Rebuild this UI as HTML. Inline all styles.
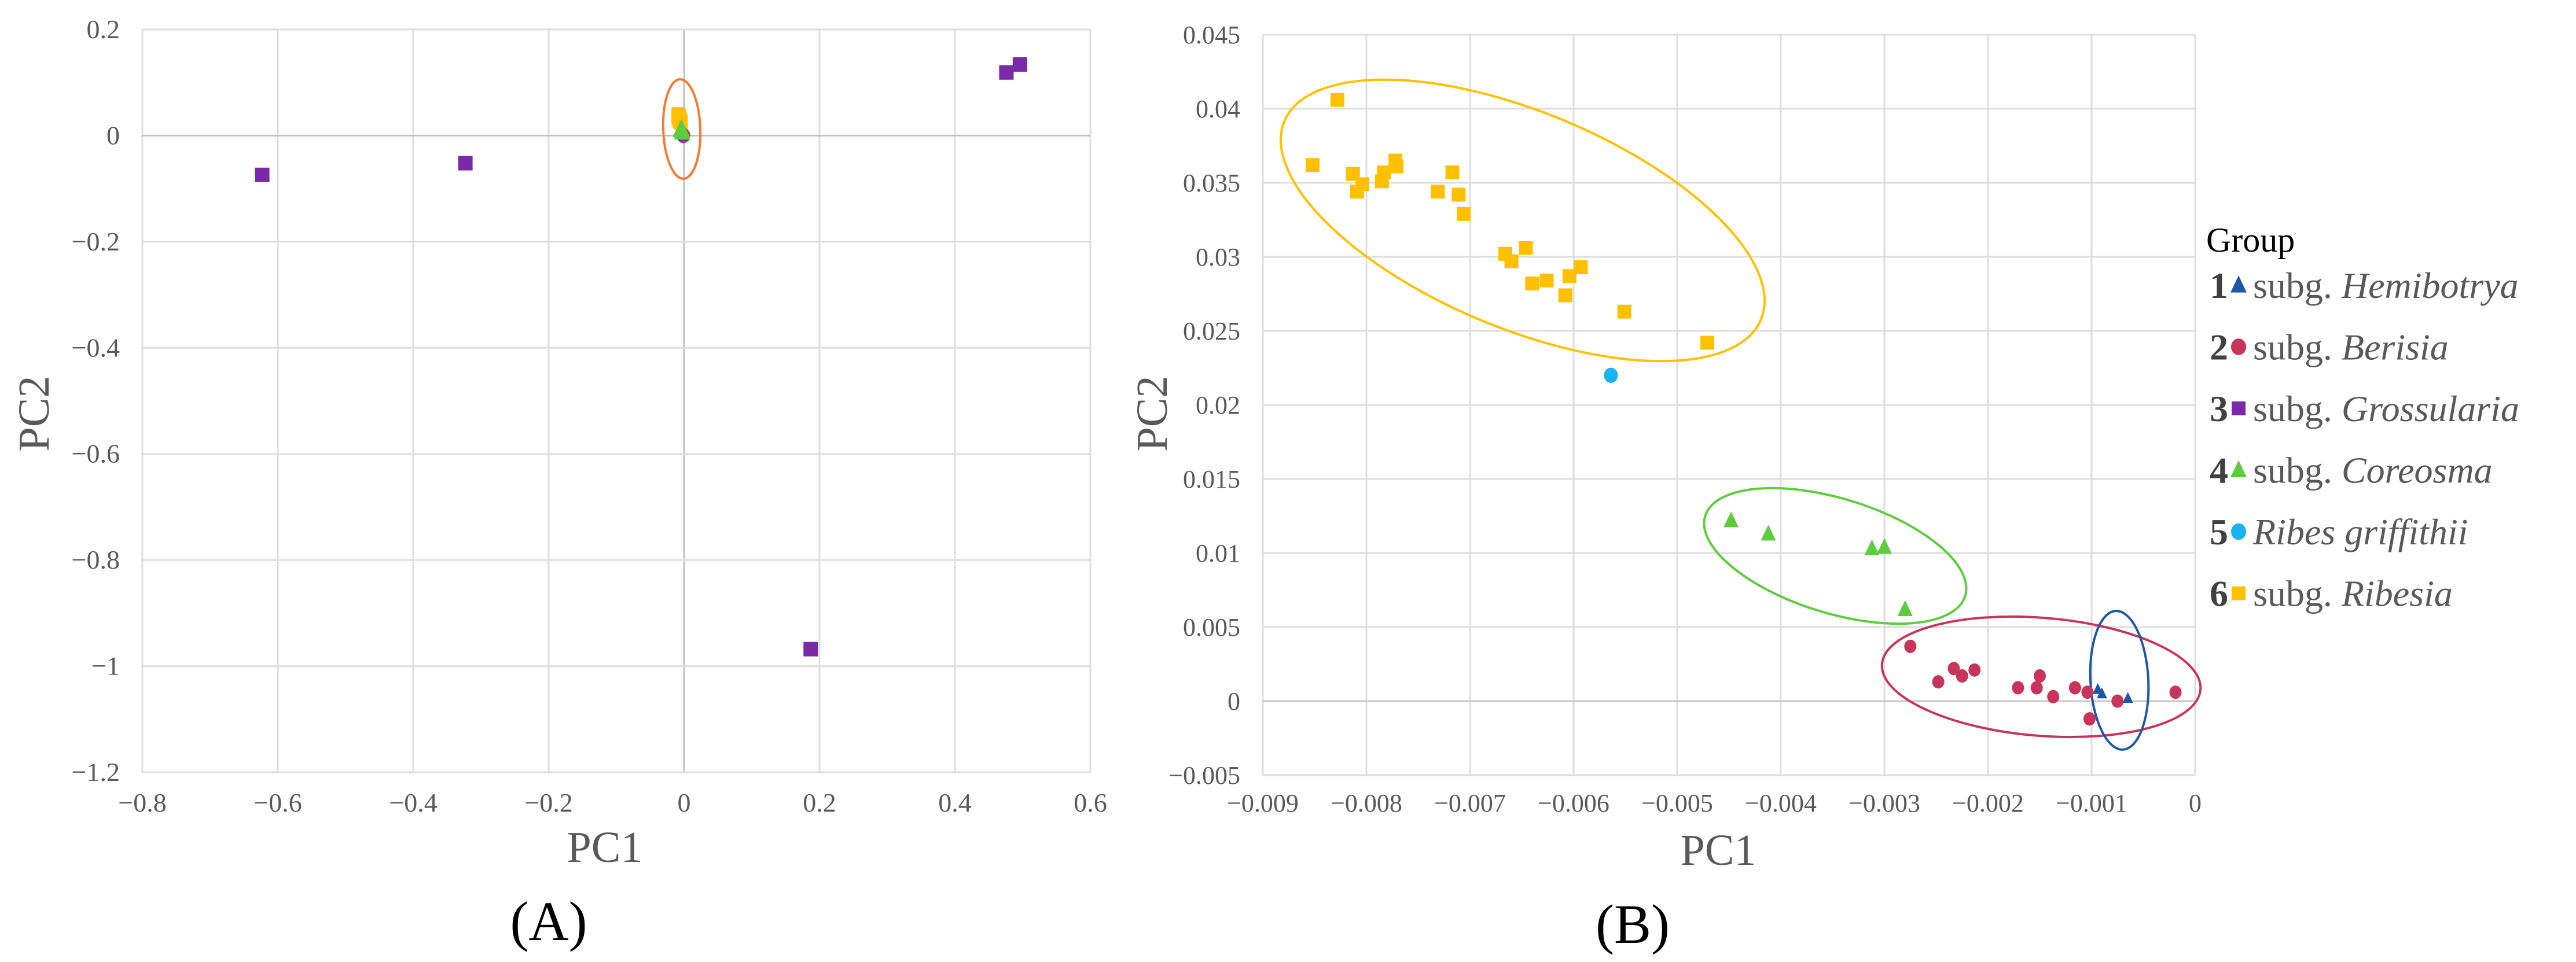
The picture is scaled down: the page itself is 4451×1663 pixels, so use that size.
<!DOCTYPE html>
<html><head><meta charset="utf-8"><style>
html,body{margin:0;padding:0;background:#fff;}
svg{display:block;font-family:"Liberation Serif",serif;}
</style></head><body>
<svg id="fig" width="4451" height="1663" viewBox="0 0 4451 1663" xmlns="http://www.w3.org/2000/svg">
<g id="panelA"></g>
<g id="panelB"></g>
<g id="legend"></g>
</svg>
<script>
// ---- Panel A data ----
const aXTicks = [-0.8,-0.6,-0.4,-0.2,0,0.2,0.4,0.6];
const aYTicks = [0.2,0,-0.2,-0.4,-0.6,-0.8,-1,-1.2];
const grossX = [-0.623,-0.323,0.187,0.476,0.496];
const grossY = [-0.074,-0.052,-0.968,0.119,0.134];
// ---- Panel B data ----
const bXTicks = [-0.009,-0.008,-0.007,-0.006,-0.005,-0.004,-0.003,-0.002,-0.001,0];
const bYTicks = [0.045,0.04,0.035,0.03,0.025,0.02,0.015,0.01,0.005,0,-0.005];
const ribesiaX = [-0.00828,-0.00852,-0.00813,-0.00804,-0.00809,-0.00785,-0.00783,-0.00772,-0.00771,-0.00717,-0.00731,-0.00711,-0.00706,-0.00666,-0.00660,-0.00646,-0.00640,-0.00626,-0.00608,-0.00604,-0.00593,-0.00551,-0.00471];
const ribesiaY = [0.0406,0.0362,0.0356,0.0349,0.0344,0.0351,0.0357,0.0365,0.0361,0.0357,0.0344,0.0342,0.0329,0.0302,0.0297,0.0306,0.0282,0.0284,0.0274,0.0287,0.0293,0.0263,0.0242];
const griffX = [-0.00564];
const griffY = [0.0220];
const coreosmaX = [-0.00448,-0.00412,-0.00312,-0.00300,-0.00280];
const coreosmaY = [0.0122,0.0113,0.0103,0.0104,0.0062];
const berisiaX = [-0.00275,-0.00248,-0.00233,-0.00225,-0.00213,-0.00171,-0.00153,-0.00150,-0.00137,-0.00116,-0.00104,-0.00102,-0.00075,-0.00019];
const berisiaY = [0.0037,0.0013,0.0022,0.0017,0.0021,0.0009,0.0009,0.0017,0.0003,0.0009,0.0006,-0.0012,0.0000,0.0006];
const hemiX = [-0.00094,-0.00090,-0.00065];
const hemiY = [0.0008,0.0005,0.0002];

const NS="http://www.w3.org/2000/svg";
function mk(tag, attrs, parent){const e=document.createElementNS(NS,tag);for(const k in attrs)e.setAttribute(k,attrs[k]);parent.appendChild(e);return e;}
const COL={hemi:"#1f57a8",beris:"#c8345a",gross:"#7a2aa6",coreo:"#5dcc3d",griff:"#19b4ef",ribes:"#ffc000"};
function fmt(v){return v<0?"\u2212"+String(Math.abs(v)):String(v);}

function marker(g,shape,cx,cy,s,color,name){
  let e;
  if(shape==="square"){e=mk("rect",{x:cx-s/2,y:cy-s/2,width:s,height:s,fill:color},g);}
  else if(shape==="circle"){e=mk("ellipse",{cx:cx,cy:cy,rx:s/2,ry:s/2*1.1,fill:color},g);}
  else {e=mk("polygon",{points:`${cx},${cy-s*0.6} ${cx-s/2},${cy+s*0.45} ${cx+s/2},${cy+s*0.45}`,fill:color},g);}
  
  
  return e;
}

// ===== Panel A =====
(function(){
  const g=document.getElementById("panelA");
  const L=246,R=1884,T=51,B=1335;
  const xs=v=>L+(v-(-0.8))/(1.4)*(R-L);
  const ys=v=>T+(0.2-v)/(1.4)*(B-T);
  aXTicks.forEach(v=>{
    const l=mk("line",{x1:xs(v),x2:xs(v),y1:T,y2:B,stroke:v===0?"#c0c0c0":"#dedede","stroke-width":3},g);
    
    
    const t=mk("text",{x:xs(v),y:1403,"text-anchor":"middle","font-size":46,fill:"#595959"},g);
    t.textContent=fmt(v);
    
    
  });
  aYTicks.forEach(v=>{
    const l=mk("line",{x1:L,x2:R,y1:ys(v),y2:ys(v),stroke:v===0?"#c0c0c0":"#dedede","stroke-width":3},g);
    
    
    const t=mk("text",{x:207,y:ys(v)+15,"text-anchor":"end","font-size":46,fill:"#595959"},g);
    t.textContent=fmt(v);
    
    
  });
  const sets=[[griffX,griffY,"circle",COL.griff,22],[ribesiaX,ribesiaY,"square",COL.ribes,24],[berisiaX,berisiaY,"circle",COL.beris,22],[hemiX,hemiY,"triangle",COL.hemi,20],[coreosmaX,coreosmaY,"triangle",COL.coreo,28]];
  sets.forEach(s=>s[0].forEach((x,i)=>marker(g,s[2],xs(x),ys(s[1][i]),s[4],s[3],"a-point")));
  grossX.forEach((x,i)=>marker(g,"square",xs(x),ys(grossY[i]),25,COL.gross,"a-grossularia-point"));
  const el=mk("ellipse",{cx:1178,cy:223,rx:32,ry:86,fill:"none",stroke:"#f47b32","stroke-width":4,transform:"rotate(-2 1178 223)"},g);
  
  
  const px=mk("text",{x:1045,y:1490,"text-anchor":"middle","font-size":76,fill:"#595959"},g);px.textContent="PC1";
  
  const py=mk("text",{x:0,y:0,"text-anchor":"middle","font-size":76,fill:"#595959",transform:"translate(84,715) rotate(-90)"},g);py.textContent="PC2";
  
  const cap=mk("text",{x:948,y:1625,"text-anchor":"middle","font-size":96,fill:"#000"},g);cap.textContent="(A)";
  
})();

// ===== Panel B =====
(function(){
  const g=document.getElementById("panelB");
  const L=2182,R=3793,T=60,B=1340;
  const xs=v=>L+(v+0.009)/0.009*(R-L);
  const ys=v=>T+(0.045-v)/0.05*(B-T);
  bXTicks.forEach(v=>{
    const l=mk("line",{x1:xs(v),x2:xs(v),y1:T,y2:B,stroke:"#dedede","stroke-width":3},g);
    
    
    const t=mk("text",{x:xs(v),y:1403,"text-anchor":"middle","font-size":44,fill:"#595959"},g);
    t.textContent=fmt(v);
    
    
  });
  bYTicks.forEach(v=>{
    const l=mk("line",{x1:L,x2:R,y1:ys(v),y2:ys(v),stroke:v===0?"#c8c8c8":"#dedede","stroke-width":3},g);
    
    
    const t=mk("text",{x:2143,y:ys(v)+15,"text-anchor":"end","font-size":44,fill:"#595959"},g);
    t.textContent=fmt(v);
    
    
  });
  const ells=[[2631,381,446,187,22.6,"#ffc000"],[3171,961,235,99,17.1,"#5dcc3d"],[3527,1170,276,102,4.6,"#c8345a"],[3662,1176,50,120,-3,"#1f57a8"]];
  ells.forEach(e=>{
    const el=mk("ellipse",{cx:e[0],cy:e[1],rx:e[2],ry:e[3],fill:"none",stroke:e[5],"stroke-width":4,transform:`rotate(${e[4]} ${e[0]} ${e[1]})`},g);
    
    
  });
  ribesiaX.forEach((x,i)=>marker(g,"square",xs(x),ys(ribesiaY[i]),24,COL.ribes,"b-ribesia-point"));
  griffX.forEach((x,i)=>marker(g,"circle",xs(x),ys(griffY[i]),24,COL.griff,"b-griffithii-point"));
  coreosmaX.forEach((x,i)=>marker(g,"triangle",xs(x),ys(coreosmaY[i]),26,COL.coreo,"b-coreosma-point"));
  berisiaX.forEach((x,i)=>marker(g,"circle",xs(x),ys(berisiaY[i]),21,COL.beris,"b-berisia-point"));
  hemiX.forEach((x,i)=>marker(g,"triangle",xs(x),ys(hemiY[i]),18,COL.hemi,"b-hemibotrya-point"));
  const px=mk("text",{x:2969,y:1495,"text-anchor":"middle","font-size":76,fill:"#595959"},g);px.textContent="PC1";
  
  const py=mk("text",{x:0,y:0,"text-anchor":"middle","font-size":76,fill:"#595959",transform:"translate(2016,715) rotate(-90)"},g);py.textContent="PC2";
  
  const cap=mk("text",{x:2821,y:1630,"text-anchor":"middle","font-size":96,fill:"#000"},g);cap.textContent="(B)";
  
})();

// ===== Legend =====
const legNums=["1","2","3","4","5","6"];
const legPrefix=["subg. ","subg. ","subg. ","subg. ","","subg. "];
const legNames=["Hemibotrya","Berisia","Grossularia","Coreosma","Ribes griffithii","Ribesia"];
(function(){
  const g=document.getElementById("legend");
  const title=mk("text",{x:3812,y:435,"font-size":60,fill:"#000"},g);title.textContent="Group";
  
  const shapes=["triangle","circle","square","triangle","circle","square"];
  const cols=[COL.hemi,COL.beris,COL.gross,COL.coreo,COL.griff,COL.ribes];
  const sizes=[28,26,24,28,26,24];
  legNums.forEach((n,i)=>{
    const y=515+i*106.5;
    const eg=mk("g",{},g);
    
    
    const t1=mk("text",{x:3818,y:y,"font-size":64,"font-weight":"bold",fill:"#404040"},eg);t1.textContent=n;
    marker(eg,shapes[i],3868,y-22,sizes[i],cols[i],"legend-marker");
    const t=mk("text",{x:3893,y:y,"font-size":64,fill:"#595959"},eg);
    t.appendChild(document.createTextNode(legPrefix[i]));
    const it=mk("tspan",{"font-style":"italic"},t);it.textContent=legNames[i];
  });
})();
</script>
</body></html>
